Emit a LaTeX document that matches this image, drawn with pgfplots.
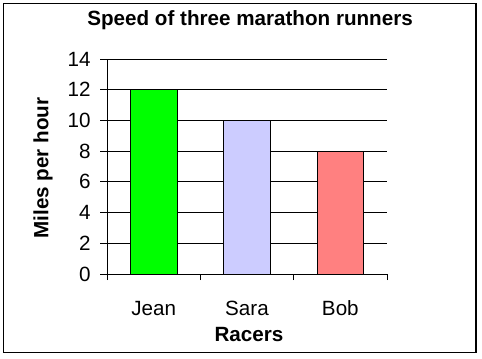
\documentclass[border=0pt]{standalone}
\usepackage{pgfplots}
\pgfplotsset{compat=1.18}
\usepackage{fontspec}
\setmainfont{Liberation Sans}

\definecolor{jeancol}{HTML}{00FF00}
\definecolor{saracol}{HTML}{CCCCFF}
\definecolor{bobcol}{HTML}{FF8080}

\begin{document}
\begin{tikzpicture}[x=1bp,y=1bp]
  \useasboundingbox (0,0) rectangle (482,358);
  \fill[white] (0,0) rectangle (482,358);
  \draw[line width=1.2bp] (3.5,5.5) rectangle (476,354.5);
  \begin{axis}[
    at={(107bp,84bp)}, anchor=south west,
    scale only axis, width=280bp, height=215bp,
    xmin=-0.5, xmax=2.5, ymin=0, ymax=14,
    ytick={0,2,...,14},
    xtick={0,1,2}, xticklabels={Jean,Sara,Bob},
    minor xtick={-0.5,0.5,1.5,2.5},
    axis x line*=bottom, axis y line*=left,
    axis line style={line width=0.8bp, -},
    ymajorgrids, grid style={black, line width=0.8bp},
    tick align=outside,
    major tick length=7bp, minor tick length=6bp,
    major x tick style={draw=none},
    every tick/.style={black, line width=0.8bp},
    minor x tick style={black, line width=0.8bp},
    /pgf/number format/assume math mode=true,
    ticklabel style={font=\fontsize{20.7}{24}\selectfont},
    yticklabel style={anchor=east, xshift=-6bp},
    xticklabel style={anchor=base, yshift=-34bp},
    title={\bfseries Speed of three marathon runners},
    title style={font=\fontsize{20.7}{24}\selectfont, anchor=base, at={(rel axis cs:0.511,1.126)}},
    xlabel={\bfseries Racers},
    xlabel style={font=\fontsize{20.7}{24}\selectfont, anchor=base, at={(rel axis cs:0.507,-0.315)}},
    ylabel={\bfseries Miles per hour},
    ylabel style={font=\fontsize{20.7}{24}\selectfont, anchor=center, at={(rel axis cs:-0.228,0.493)}, rotate=0},
    ybar, bar width=0.5, bar shift=0,
    every axis plot/.append style={draw=black, line width=0.8bp},
  ]
    \addplot[fill=jeancol] coordinates {(0,12)};
    \addplot[fill=saracol] coordinates {(1,10)};
    \addplot[fill=bobcol] coordinates {(2,8)};
  \end{axis}
\end{tikzpicture}
\end{document}
